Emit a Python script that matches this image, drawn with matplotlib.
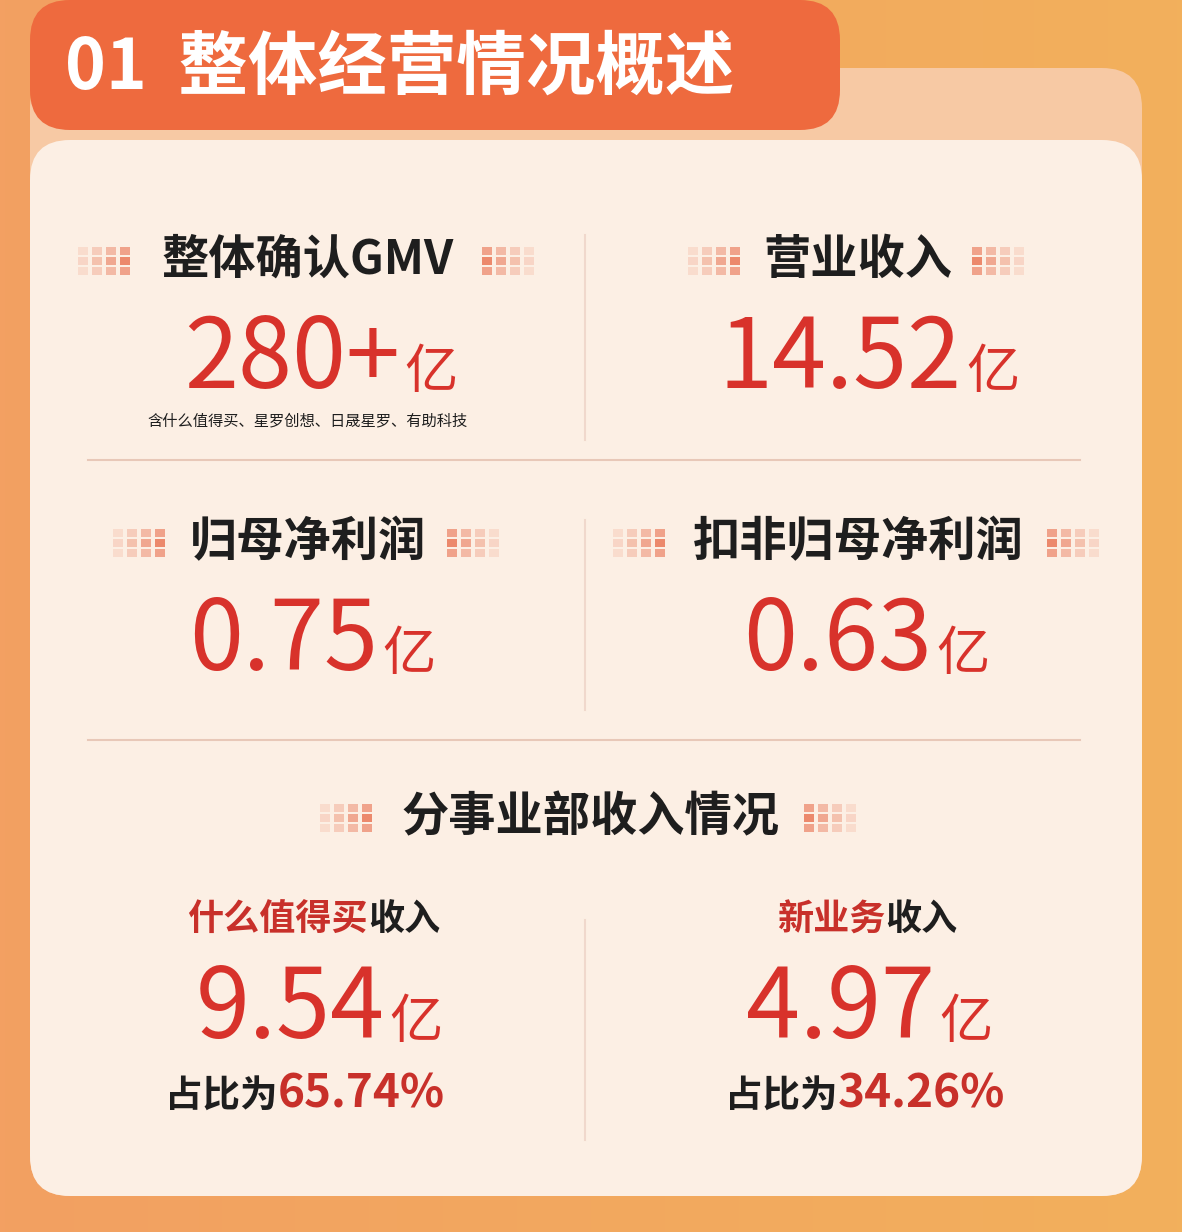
import numpy as np
import matplotlib.pyplot as plt
from matplotlib.patches import FancyBboxPatch, Rectangle

plt.rcParams['font.family'] = 'Noto Sans CJK SC'

# data
header = "01  整体经营情况概述"
metric_titles = ["整体确认GMV", "营业收入", "归母净利润", "扣非归母净利润"]
metric_values = ["280+", "14.52", "0.75", "0.63"]
gmv_note = "含什么值得买、星罗创想、日晟星罗、有助科技"
section_title = "分事业部收入情况"
seg_names = ["什么值得买", "新业务"]
seg_values = ["9.54", "4.97"]
seg_shares = ["65.74%", "34.26%"]

W, H = 1182, 1232
fig = plt.figure(figsize=(W / 100, H / 100), dpi=100)
ax = fig.add_axes([0, 0, 1, 1])
ax.set_xlim(0, W)
ax.set_ylim(H, 0)
ax.axis('off')

# orange background gradient
grad = np.linspace(0, 1, 256).reshape(1, -1)
ax.imshow(np.vstack([grad] * 2), extent=[0, W, H, 0], aspect='auto',
          cmap=plt.matplotlib.colors.LinearSegmentedColormap.from_list('bg', ['#F3A062', '#F2B05C']), zorder=0)

RED = '#D8322B'
DARK = '#1E1E1E'

# card
ax.add_patch(FancyBboxPatch((30, 68), 1112, 1128, boxstyle="round,pad=0,rounding_size=40",
                            fc='#F7C9A4', ec='none', zorder=2))
ax.add_patch(FancyBboxPatch((30, 140), 1112, 1056, boxstyle="round,pad=0,rounding_size=40",
                            fc='#FCEFE4', ec='none', zorder=3))
# header tab
ax.add_patch(FancyBboxPatch((30, 0), 810, 130, boxstyle="round,pad=0,rounding_size=40",
                            fc='#EE6A3E', ec='none', zorder=3))
ax.text(65, 68, header, color='white', fontsize=50, fontweight='bold', va='center', ha='left', zorder=5)

# dividers
for y in [460, 740]:
    ax.plot([88, 1080], [y, y], color='#E8C8B8', lw=1.5, zorder=4)
for y0, y1 in [(235, 440), (520, 710), (920, 1140)]:
    ax.plot([585, 585], [y0, y1], color='#F0D8CC', lw=1.5, zorder=4)


def squares(xc, yc, flip=False):
    cols = [0.25, 0.45, 0.7, 1.0]
    if flip:
        cols = cols[::-1]
    for i, a in enumerate(cols):
        for j in range(3):
            ax.add_patch(Rectangle((xc + i * 14 - 28, yc + j * 10 - 15), 10, 8,
                                   fc='#E8704E', alpha=a * (0.6 + 0.2 * (j == 1)), ec='none', zorder=4))


def title(x, y, s, w):
    ax.text(x, y, s, fontsize=34, fontweight='bold', color=DARK, ha='center', va='center', zorder=5)
    squares(x - w / 2 - 42, y + 2)
    squares(x + w / 2 + 42, y + 2, flip=True)


def value(x, y, s, size=70):
    ax.text(x, y, s, fontsize=size, color=RED, ha='right', va='baseline', zorder=5)
    ax.text(x + 4, y, "亿", fontsize=size * 0.55, color=RED, ha='left', va='baseline', zorder=5)


cx = [308, 858]
title(cx[0], 260, metric_titles[0], 320)
title(cx[1], 260, metric_titles[1], 200)
value(400, 388, metric_values[0])
value(962, 388, metric_values[1])
ax.text(cx[0], 421, gmv_note, fontsize=11, color=DARK, ha='center', va='center', zorder=5)

title(cx[0], 542, metric_titles[2], 250)
title(cx[1], 542, metric_titles[3], 350)
value(378, 670, metric_values[2])
value(932, 670, metric_values[3])

title(590, 817, section_title, 400)

for k in range(2):
    x = [368, 885][k]
    ax.text(x, 920, seg_names[k], fontsize=26, fontweight='bold', color='#C8302A', ha='right', va='center', zorder=5)
    ax.text(x, 920, "收入", fontsize=26, fontweight='bold', color=DARK, ha='left', va='center', zorder=5)
    value([385, 935][k], 1038, seg_values[k])
    sx = [278, 838][k]
    ax.text(sx, 1095, "占比为", fontsize=27, fontweight='bold', color=DARK, ha='right', va='center', zorder=5)
    ax.text(sx, 1095, seg_shares[k], fontsize=33, fontweight='bold', color='#C8302A', ha='left', va='center', zorder=5)

fig.savefig('out.png', dpi=100)
